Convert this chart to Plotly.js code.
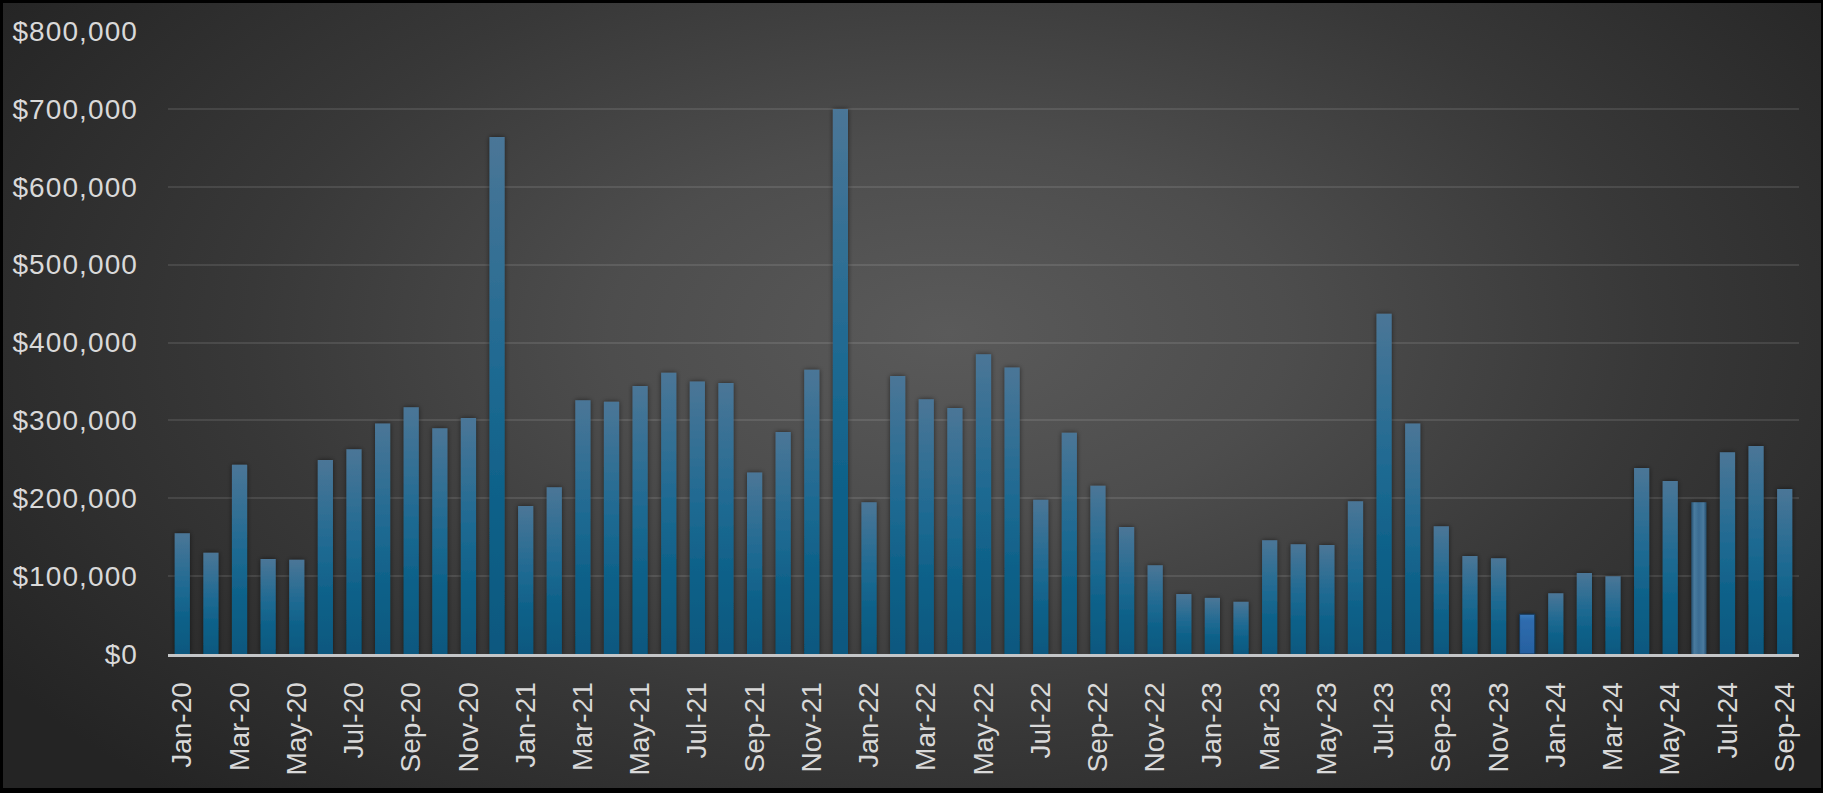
<!DOCTYPE html>
<html>
<head>
<meta charset="utf-8">
<script src="https://cdn.plot.ly/plotly-3.0.1.min.js"></script>
<style>
  html, body { margin: 0; padding: 0; background: #000; }
  #chart {
    position: absolute; left: 0; top: 0;
    width: 1823px; height: 793px;
    background: radial-gradient(ellipse 62% 80% at 52% 42%, #5a5a5a 0%, #4d4d4d 30%, #383838 62%, #242424 100%);
    box-shadow: inset 0 3px 0 #000, inset 3px 0 0 #000, inset -2px 0 0 #000, inset 0 -5px 0 #000;
  }
  /* slightly wider value labels */
  #chart .ytick text { letter-spacing: 1.1px; }
</style>
</head>
<body>
<div id="chart"></div>
<script>
// Monthly totals, Jan 2020 – Sep 2024
const months = [
  'Jan-20','Feb-20','Mar-20','Apr-20','May-20','Jun-20','Jul-20','Aug-20','Sep-20','Oct-20','Nov-20','Dec-20',
  'Jan-21','Feb-21','Mar-21','Apr-21','May-21','Jun-21','Jul-21','Aug-21','Sep-21','Oct-21','Nov-21','Dec-21',
  'Jan-22','Feb-22','Mar-22','Apr-22','May-22','Jun-22','Jul-22','Aug-22','Sep-22','Oct-22','Nov-22','Dec-22',
  'Jan-23','Feb-23','Mar-23','Apr-23','May-23','Jun-23','Jul-23','Aug-23','Sep-23','Oct-23','Nov-23','Dec-23',
  'Jan-24','Feb-24','Mar-24','Apr-24','May-24','Jun-24','Jul-24','Aug-24','Sep-24'
];
const amounts = [
  155000,130000,243000,122000,121000,249000,263000,296000,317000,290000,303000,664000,
  190000,214000,326000,324000,344000,361000,350000,348000,233000,285000,365000,700000,
  195000,357000,327000,316000,385000,368000,198000,284000,216000,163000,114000,77000,
  72000,67000,146000,141000,140000,196000,437000,296000,164000,126000,123000,51000,
  78000,104000,100000,239000,222000,195000,259000,267000,212000
];
// every other month is labelled on the axis
const tickMonths = months.filter((m, i) => i % 2 === 0);
const yTicks = [0, 100000, 200000, 300000, 400000, 500000, 600000, 700000, 800000];
const yTickText = ['$0', '$100,000', '$200,000', '$300,000', '$400,000', '$500,000', '$600,000', '$700,000', '$800,000'];

// bars that carry their own fill
const specialFill = { 'Dec-23': 'gradDec', 'Jun-24': 'gradJun' };

const labelFont = { family: 'Liberation Sans, Arial, sans-serif', size: 28, color: '#d9d9d9' };

const trace = {
  type: 'bar',
  x: months,
  y: amounts,
  marker: { color: '#1a6890', line: { width: 0 } },
  hoverinfo: 'skip'
};

const layout = {
  width: 1823,
  height: 793,
  margin: { l: 168, r: 24, t: 31, b: 139 },
  paper_bgcolor: 'rgba(0,0,0,0)',
  plot_bgcolor: 'rgba(0,0,0,0)',
  bargap: 0.47,
  showlegend: false,
  xaxis: {
    type: 'category',
    tickmode: 'array',
    tickvals: tickMonths,
    ticktext: tickMonths,
    tickangle: -90,
    tickfont: labelFont,
    ticks: '',
    ticklabelstandoff: 14,
    showgrid: false,
    zeroline: false,
    showline: true,
    linecolor: '#c4c6c8',
    linewidth: 3
  },
  yaxis: {
    range: [0, 800000],
    tickmode: 'array',
    tickvals: yTicks,
    ticktext: yTickText,
    tickfont: labelFont,
    ticks: '',
    ticklabelstandoff: 29,
    showgrid: true,
    gridcolor: 'rgba(255,255,255,0.1)',
    gridwidth: 2,
    zeroline: false,
    showline: false
  }
};

function addGradient(defs, id, stops, horizontal) {
  const ns = 'http://www.w3.org/2000/svg';
  const g = document.createElementNS(ns, 'linearGradient');
  g.setAttribute('id', id);
  g.setAttribute('x1', '0'); g.setAttribute('y1', '0');
  g.setAttribute('x2', horizontal ? '1' : '0'); g.setAttribute('y2', horizontal ? '0' : '1');
  stops.forEach(([off, col]) => {
    const s = document.createElementNS(ns, 'stop');
    s.setAttribute('offset', off);
    s.setAttribute('stop-color', col);
    g.appendChild(s);
  });
  defs.appendChild(g);
}

function shadeBars(gd) {
  const ns = 'http://www.w3.org/2000/svg';
  const svg = gd.querySelector('.main-svg');
  let defs = svg.querySelector('defs');
  if (!defs) { defs = document.createElementNS(ns, 'defs'); svg.insertBefore(defs, svg.firstChild); }

  addGradient(defs, 'gradBar', [['0', '#4b7697'], ['0.45', '#1f6a92'], ['0.7', '#0e6189'], ['1', '#08587f']]);
  addGradient(defs, 'gradDec', [['0', '#3d7cbd'], ['0.15', '#2f6cae'], ['1', '#2660a0']]);
  addGradient(defs, 'gradJun', [['0', '#244f6e'], ['0.2', '#4a7b9f'], ['0.5', '#3a6c92'], ['0.8', '#4a7b9f'], ['1', '#244f6e']], true);

  const f = document.createElementNS(ns, 'filter');
  f.setAttribute('id', 'barShadow');
  f.setAttribute('x', '-30%'); f.setAttribute('y', '-10%');
  f.setAttribute('width', '160%'); f.setAttribute('height', '120%');
  const ds = document.createElementNS(ns, 'feDropShadow');
  ds.setAttribute('dx', '0'); ds.setAttribute('dy', '0');
  ds.setAttribute('stdDeviation', '2.5');
  ds.setAttribute('flood-color', '#000');
  ds.setAttribute('flood-opacity', '0.55');
  f.appendChild(ds);
  defs.appendChild(f);

  const paths = gd.querySelectorAll('.trace.bars .point path');
  paths.forEach((p, i) => {
    const id = specialFill[months[i]] || 'gradBar';
    p.style.fill = 'url(#' + id + ')';
    p.setAttribute('filter', 'url(#barShadow)');
    if (months[i] === 'Dec-23') {
      p.style.stroke = '#17385a';
      p.style.strokeWidth = '1px';
    }
  });
}

Plotly.newPlot('chart', [trace], layout, { staticPlot: true, displayModeBar: false })
  .then(shadeBars);
</script>
</body>
</html>
